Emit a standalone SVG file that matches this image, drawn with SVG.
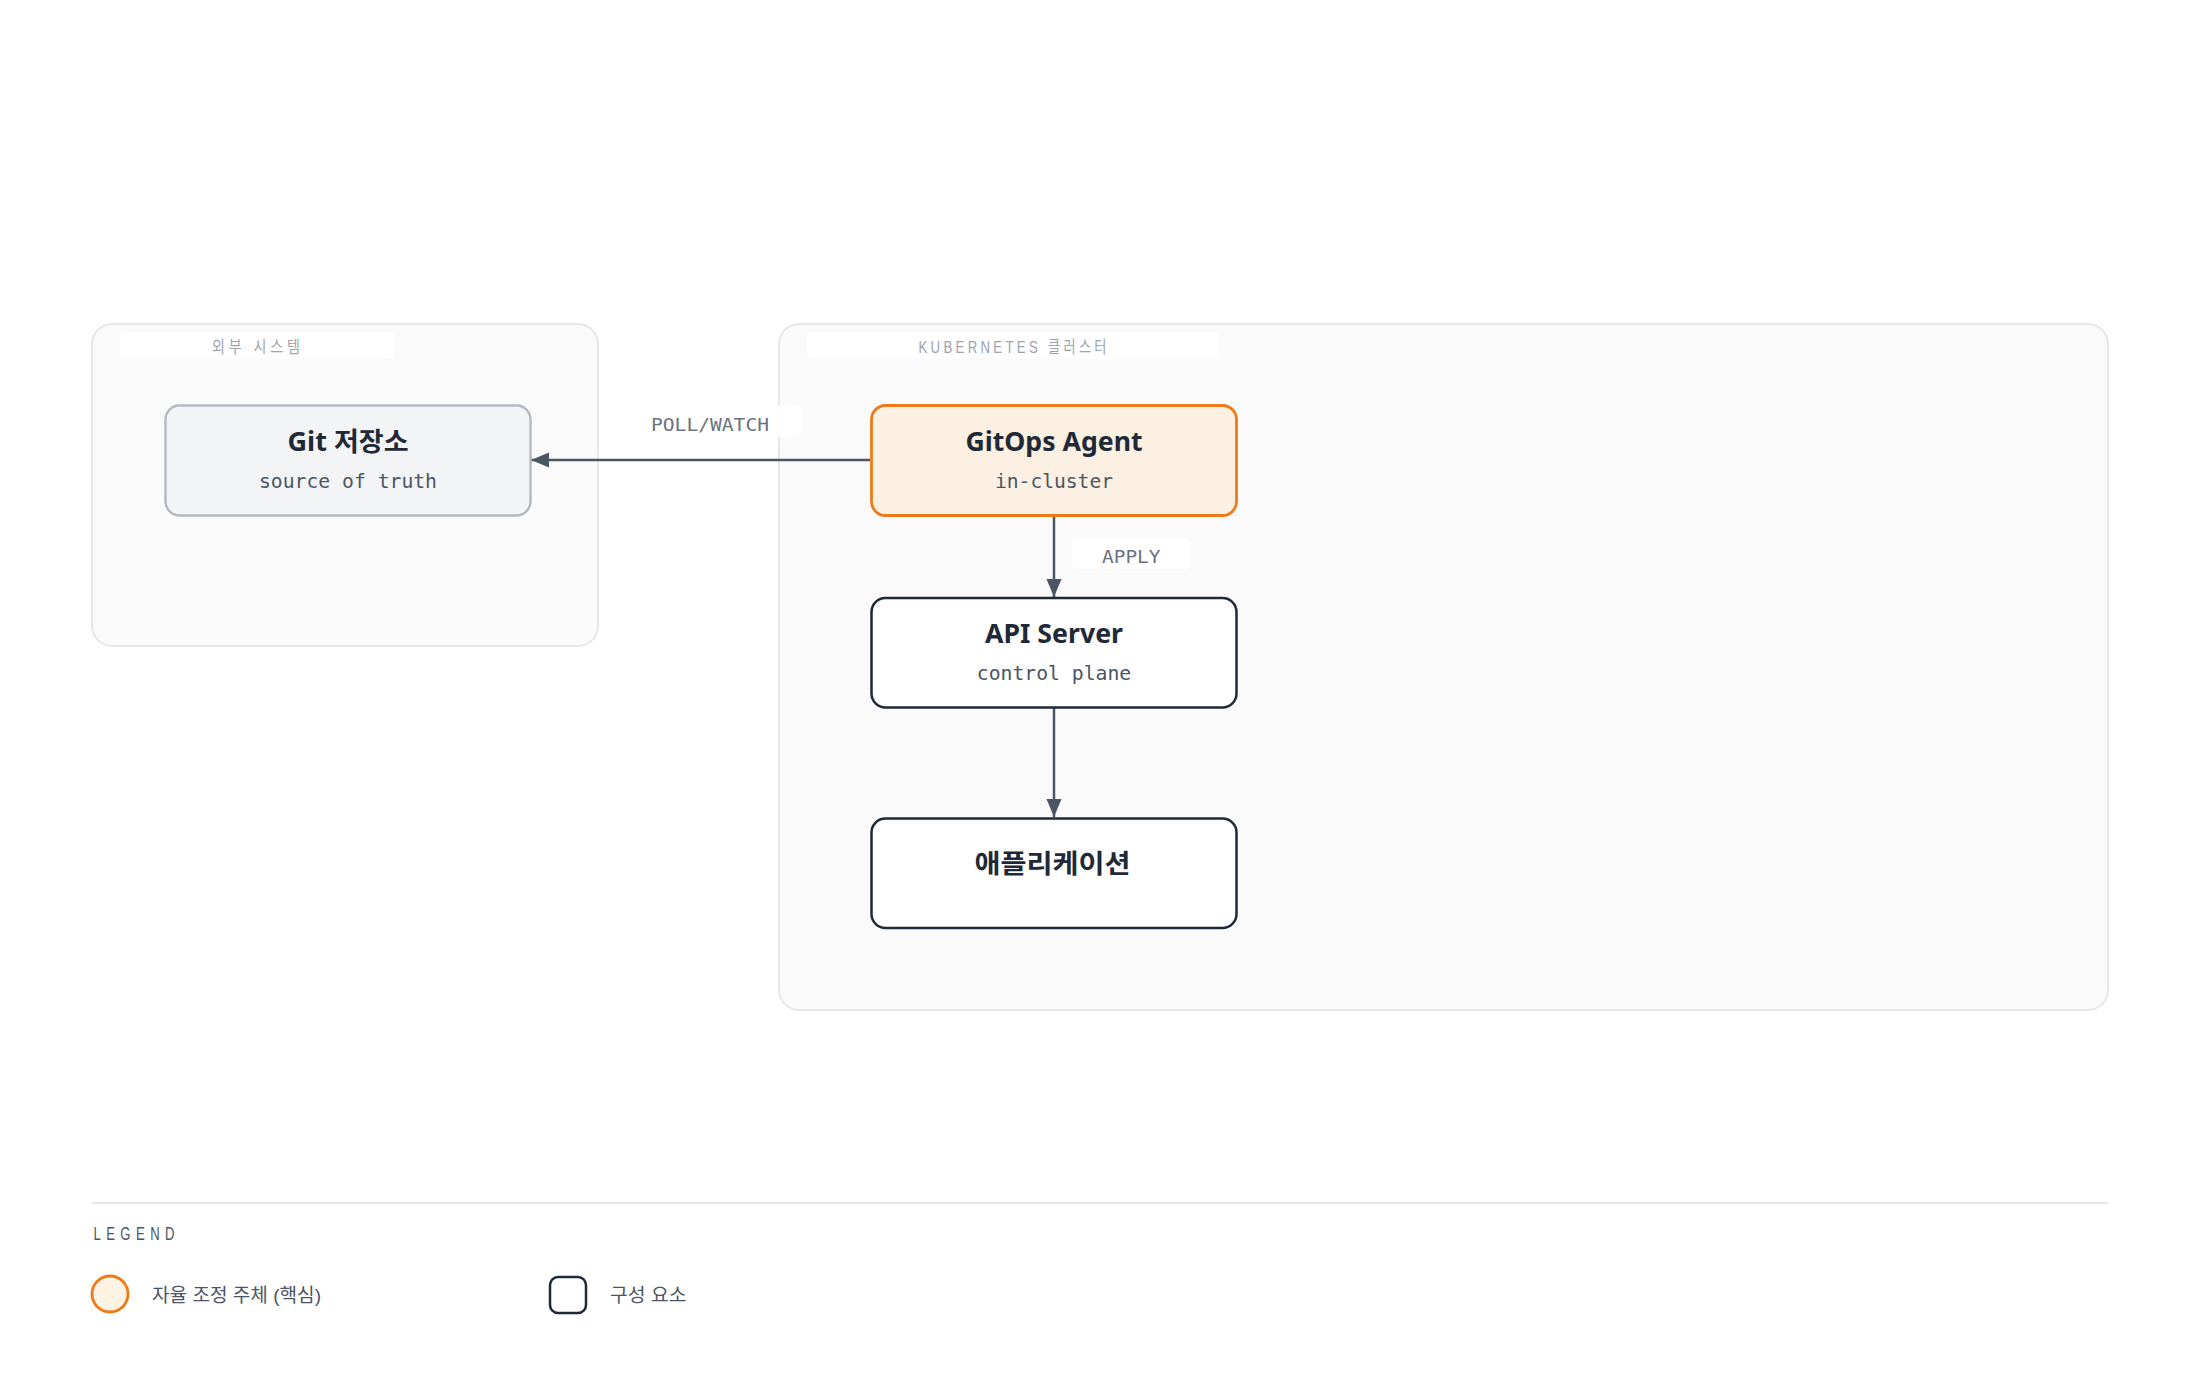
<svg xmlns="http://www.w3.org/2000/svg" width="2200" height="1378" viewBox="0 0 2200 1378">
  <style>
    .container { fill: #fafafa; stroke: #e5e7eb; stroke-width: 2; }
    .clabel-bg { fill: #ffffff; }
    .clabel { font-family: "Liberation Sans", "Noto Sans CJK KR", sans-serif; font-size: 16.5px; fill: #9ca3af; text-anchor: middle; }
    .node-title { font-family: "Noto Sans", "Noto Sans CJK KR", sans-serif; font-weight: 700; font-size: 26px; fill: #1f2937; text-anchor: middle; }
    .node-sub { font-family: "DejaVu Sans Mono", "Liberation Mono", monospace; font-size: 20px; fill: #4b5563; text-anchor: middle; }
    .edge { stroke: #4b5563; stroke-width: 2.5; fill: none; }
    .elabel-bg { fill: #ffffff; opacity: 0.92; }
    .elabel { font-family: "DejaVu Sans Mono", "Liberation Mono", monospace; font-size: 18px; fill: #6b7280; }
    .legend-text { font-family: "Liberation Sans", "Noto Sans CJK KR", sans-serif; font-size: 19px; fill: #4b5563; }
    .legend-title { font-family: "Liberation Sans", sans-serif; font-size: 17.5px; fill: #4b5563; }
  </style>
  <defs>
    <marker id="arrow" markerUnits="userSpaceOnUse" markerWidth="20" markerHeight="16" refX="18" refY="7.5" orient="auto">
      <path d="M0,0 L18,7.5 L0,15 z" fill="#4b5563"/>
    </marker>
  </defs>
  <rect width="2200" height="1378" fill="#ffffff"/>

  <g id="container-external">
    <rect class="container" x="92" y="324" width="506" height="322" rx="20"/>
    <rect class="clabel-bg" x="120" y="332" width="274" height="27" rx="5"/>
    <text class="clabel" transform="translate(256 353) scale(0.85 1)" x="0" y="0" textLength="103.5" lengthAdjust="spacing">외부 시스템</text>
  </g>

  <g id="container-k8s">
    <rect class="container" x="779" y="324" width="1329" height="686" rx="20"/>
    <rect class="clabel-bg" x="807" y="332" width="412" height="27" rx="5"/>
    <text class="clabel" transform="translate(1012.5 353) scale(0.8 1)" x="0" y="0" textLength="235" lengthAdjust="spacing">KUBERNETES 클러스터</text>
  </g>

  <g id="connectors">
    <line class="edge" x1="870" y1="460" x2="531" y2="460" marker-end="url(#arrow)"/>
    <line class="edge" x1="1054" y1="516" x2="1054" y2="597" marker-end="url(#arrow)"/>
    <line class="edge" x1="1054" y1="708" x2="1054" y2="817" marker-end="url(#arrow)"/>
    <g id="label-poll">
      <rect class="elabel-bg" x="647" y="405" width="155" height="32" rx="6"/>
      <text class="elabel" x="651" y="431" textLength="118" lengthAdjust="spacingAndGlyphs">POLL/WATCH</text>
    </g>
    <g id="label-apply">
      <rect class="elabel-bg" x="1072" y="538" width="119" height="31" rx="6"/>
      <text class="elabel" x="1102" y="563" textLength="58.5" lengthAdjust="spacingAndGlyphs">APPLY</text>
    </g>
  </g>

  <g id="node-git">
    <rect x="165.5" y="405.5" width="365" height="110" rx="14" fill="#f3f4f6" stroke="#b5bac2" stroke-width="2.5"/>
    <text class="node-title" x="348" y="451" textLength="121" lengthAdjust="spacingAndGlyphs">Git 저장소</text>
    <text class="node-sub" x="348" y="488" textLength="178" lengthAdjust="spacingAndGlyphs">source of truth</text>
  </g>

  <g id="node-gitops">
    <rect x="871.5" y="405.5" width="365" height="110" rx="14" fill="#fbf0e1" stroke="#ef7a1a" stroke-width="2.8"/>
    <text class="node-title" x="1054" y="451" textLength="177" lengthAdjust="spacingAndGlyphs">GitOps Agent</text>
    <text class="node-sub" x="1054" y="488" textLength="118" lengthAdjust="spacingAndGlyphs">in-cluster</text>
  </g>

  <g id="node-api">
    <rect x="871.5" y="598" width="365" height="109.5" rx="14" fill="#ffffff" stroke="#1f2937" stroke-width="2.5"/>
    <text class="node-title" x="1054" y="643" textLength="138" lengthAdjust="spacingAndGlyphs">API Server</text>
    <text class="node-sub" x="1054" y="680" textLength="154.5" lengthAdjust="spacingAndGlyphs">control plane</text>
  </g>

  <g id="node-app">
    <rect x="871.5" y="818.5" width="365" height="109.5" rx="14" fill="#ffffff" stroke="#1f2937" stroke-width="2.5"/>
    <text class="node-title" x="1052.5" y="873" textLength="156" lengthAdjust="spacingAndGlyphs">애플리케이션</text>
  </g>

  <g id="legend">
    <line x1="92" y1="1203" x2="2108" y2="1203" stroke="#e5e7eb" stroke-width="2"/>
    <text class="legend-title" transform="translate(93.5 1240) scale(0.75 1)" x="0" y="0" textLength="108" lengthAdjust="spacing">LEGEND</text>
    <circle cx="110" cy="1294" r="18" fill="#fef3e2" stroke="#ef7a1a" stroke-width="2.8"/>
    <text class="legend-text" x="152" y="1302" textLength="169" lengthAdjust="spacingAndGlyphs">자율 조정 주체 (핵심)</text>
    <rect x="550" y="1277" width="36" height="36" rx="8" fill="#ffffff" stroke="#1f2937" stroke-width="2.5"/>
    <text class="legend-text" x="610" y="1302" textLength="76.5" lengthAdjust="spacingAndGlyphs">구성 요소</text>
  </g>
</svg>
